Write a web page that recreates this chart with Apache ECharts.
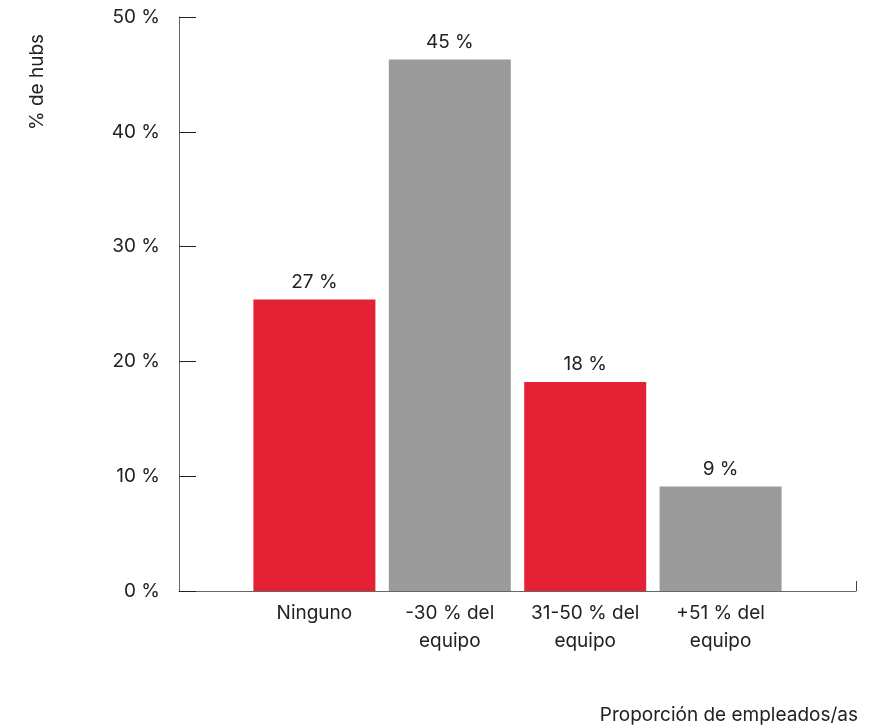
<!DOCTYPE html>
<html>
<head>
<meta charset="utf-8">
<script src="https://cdn.jsdelivr.net/npm/echarts@6/dist/echarts.min.js"></script>
<style>html,body{margin:0;padding:0;background:#fff;}#c{width:890px;height:728px;}</style>
</head>
<body>
<div id="c"></div>
<script>
const categories = ['Ninguno', '-30 % del\nequipo', '31-50 % del\nequipo', '+51 % del\nequipo'];
const values = [25.4, 46.3, 18.2, 9.1];
const valueLabels = ['27 %', '45 %', '18 %', '9 %'];
const barColors = ['#E32235', '#9B9B9B', '#E32235', '#9B9B9B'];
const yTicks = [0, 10, 20, 30, 40, 50];
const yAxisTitle = '% de hubs';
const xAxisTitle = 'Proporción de empleados/as';

const FONT = 'Inter, "Noto Sans", sans-serif';
const FS = 19;
const cats = [''].concat(categories, ['']);
const data = [null].concat(values.map((v, i) => ({value: v, itemStyle: {color: barColors[i]}})), [null]);

const chart = echarts.init(document.getElementById('c'));
chart.setOption({
  animation: false,
  grid: {left: 179, right: 34, top: 17, bottom: 137, containLabel: false},
  xAxis: {
    type: 'category',
    data: cats,
    boundaryGap: false,
    axisLine: {lineStyle: {color: '#666', width: 1}},
    axisTick: {show: true, inside: true, length: 10, interval: (i) => i === cats.length - 1, lineStyle: {color: '#444'}},
    axisLabel: {interval: 0, color: '#222', fontSize: FS, fontFamily: FONT, lineHeight: 28, margin: 8},
    splitLine: {show: false}
  },
  yAxis: {
    type: 'value',
    min: yTicks[0], max: yTicks[yTicks.length - 1], interval: 10,
    axisLine: {show: true, lineStyle: {color: '#666', width: 1}},
    axisTick: {show: true, inside: true, length: 17, lineStyle: {color: '#222'}},
    axisLabel: {formatter: '{value} %', color: '#222', fontSize: FS, fontFamily: FONT, margin: 19},
    splitLine: {show: false}
  },
  series: [{
    type: 'bar',
    data: data,
    barWidth: 122,
    label: {
      show: true, position: 'top', distance: 8,
      color: '#222', fontSize: FS, fontFamily: FONT,
      formatter: (p) => valueLabels[p.dataIndex - 1]
    }
  }],
  graphic: [
    {type: 'text', x: 37, y: 82, rotation: Math.PI / 2,
     style: {text: yAxisTitle, fill: '#222', fontSize: FS, fontFamily: FONT, align: 'center', verticalAlign: 'middle'}},
    {type: 'text', x: 858, y: 715,
     style: {text: xAxisTitle, fill: '#222', fontSize: FS, fontFamily: FONT, align: 'right', verticalAlign: 'middle'}}
  ]
});
</script>
</body>
</html>
